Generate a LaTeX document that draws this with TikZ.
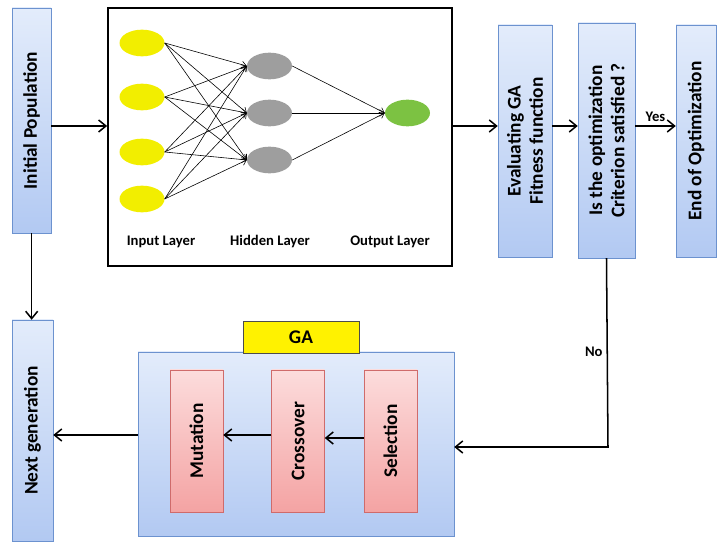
\documentclass[tikz,border=0pt]{standalone}
\usepackage{fontspec}
\setmainfont{Carlito}
\usetikzlibrary{arrows.meta, shapes.geometric}

\definecolor{blue_top}{HTML}{E3ECFB}
\definecolor{blue_bottom}{HTML}{B2C9F2}
\definecolor{blue_line}{HTML}{6C92CF}
\definecolor{red_top}{HTML}{FCDCDC}
\definecolor{red_bottom}{HTML}{F4A3A3}
\definecolor{red_line}{HTML}{CF6B6B}
\definecolor{neuron_yellow}{HTML}{F2EE00}
\definecolor{neuron_gray}{HTML}{9E9E9E}
\definecolor{neuron_green}{HTML}{7CC242}

\begin{document}
\begin{tikzpicture}[
    stage/.style={rectangle, rotate=90, align=center, draw=blue_line, thin, top color=blue_top, bottom color=blue_bottom, font=\bfseries\fontsize{16.5}{19}\selectfont, minimum height=#1},
    operator/.style={rectangle, rotate=90, align=center, draw=red_line, thin, top color=red_top, bottom color=red_bottom, font=\bfseries\fontsize{16.5}{19}\selectfont, minimum width=42.6mm, minimum height=15.9mm},
    neuron_input/.style={ellipse, fill=neuron_yellow, minimum width=13.5mm, minimum height=8mm},
    neuron_hidden/.style={ellipse, fill=neuron_gray, minimum width=13.5mm, minimum height=8mm},
    neuron_output/.style={ellipse, fill=neuron_green, minimum width=13.5mm, minimum height=8mm},
    small_label/.style={font=\bfseries\fontsize{12.5}{15}\selectfont},
    flow/.style={draw=black, line width=1.3pt, -{Straight Barb[length=2.2mm, width=3.6mm]}},
    synapse/.style={draw=black, line width=0.5pt, -{Straight Barb[length=1.4mm, width=2mm]}},
]
    \useasboundingbox (0, 0) rectangle (217.8mm, -163.5mm);

    \node(initpop)[stage=11.7mm, minimum width=67.5mm] at (9.5mm, -36.15mm) {Initial Population};

    % neural network
    \node(nn)[draw=black, line width=1.5pt, minimum width=103.2mm, minimum height=77.4mm] at (84mm, -41.1mm) {};
    \node(in1)[neuron_input] at (42.6mm, -12.9mm) {};
    \node(in2)[neuron_input] at (42.6mm, -29.1mm) {};
    \node(in3)[neuron_input] at (42.6mm, -45.6mm) {};
    \node(in4)[neuron_input] at (42.6mm, -59.7mm) {};
    \node(hid1)[neuron_hidden] at (80.85mm, -19.8mm) {};
    \node(hid2)[neuron_hidden] at (80.85mm, -33.9mm) {};
    \node(hid3)[neuron_hidden] at (80.85mm, -48mm) {};
    \node(out)[neuron_output] at (122.25mm, -33.9mm) {};
    \foreach \i in {1,...,4}
        \foreach \j in {1,2,3}
            \draw[synapse] (in\i.east) -- (hid\j.west);
    \foreach \j in {1,2,3}
        \draw[synapse] (hid\j.east) -- (out.west);
    \node(input_label)[small_label] at (48.3mm, -72.6mm) {Input Layer};
    \node(hidden_label)[small_label] at (81mm, -72.6mm) {Hidden Layer};
    \node(output_label)[small_label] at (117mm, -72.6mm) {Output Layer};

    \node(evaluate)[stage=16.2mm, minimum width=69.6mm] at (157.5mm, -42.3mm) {Evaluating GA\\ Fitness function};
    \node(criterion)[stage=17.1mm, minimum width=70.5mm] at (181.95mm, -42.15mm) {Is the optimization\\ Criterion satisfied ?};
    \node(finish)[stage=12mm, minimum width=69.6mm] at (208.8mm, -42.3mm) {End of Optimization};

    \node(nextgen)[stage=12.3mm, minimum width=66.3mm] at (9.75mm, -129.15mm) {Next generation};

    % GA block
    \node(ga)[rectangle, draw=blue_line, thin, top color=blue_top, bottom color=blue_bottom, minimum width=94.8mm, minimum height=55.2mm] at (88.8mm, -133.2mm) {};
    \node(ga_title)[rectangle, draw=black!70, thin, fill=yellow, font=\bfseries\fontsize{16.5}{19}\selectfont, minimum width=34.8mm, minimum height=9.6mm] at (90.3mm, -101.1mm) {GA};
    \node(mutation)[operator] at (58.95mm, -132.3mm) {Mutation};
    \node(crossover)[operator] at (89.4mm, -132.3mm) {Crossover};
    \node(selection)[operator] at (117.15mm, -132.3mm) {Selection};

    \coordinate(top_level) at (0, -37.8mm);
    \coordinate(no_corner) at (182.4mm, -134.1mm);

    % rotated nodes: south = right side, north = left side, west = bottom, east = top
    \draw[flow] (initpop.south |- top_level) -- (nn.west |- top_level);
    \draw[flow] (nn.east |- top_level) -- (evaluate.north |- top_level);
    \draw[flow] (evaluate.south |- top_level) -- (criterion.north |- top_level);
    \draw[flow] (criterion.south |- top_level) -- node[above, small_label]{Yes} (finish.north |- top_level);
    \draw[flow] (criterion.west) -- (no_corner) -- (no_corner -| ga.east);
    \node(no_label)[small_label, left] at (182mm, -105.6mm) {No};
    \draw[flow] (selection.north |- 0, -131.4mm) -- (crossover.south |- 0, -131.4mm);
    \draw[flow] (crossover.north |- 0, -130.5mm) -- (mutation.south |- 0, -130.5mm);
    \draw[flow] (ga.west |- 0, -130.5mm) -- (nextgen.south |- 0, -130.5mm);
    \draw[flow] (initpop.west) -- (initpop.west |- nextgen.east);
\end{tikzpicture}
\end{document}
